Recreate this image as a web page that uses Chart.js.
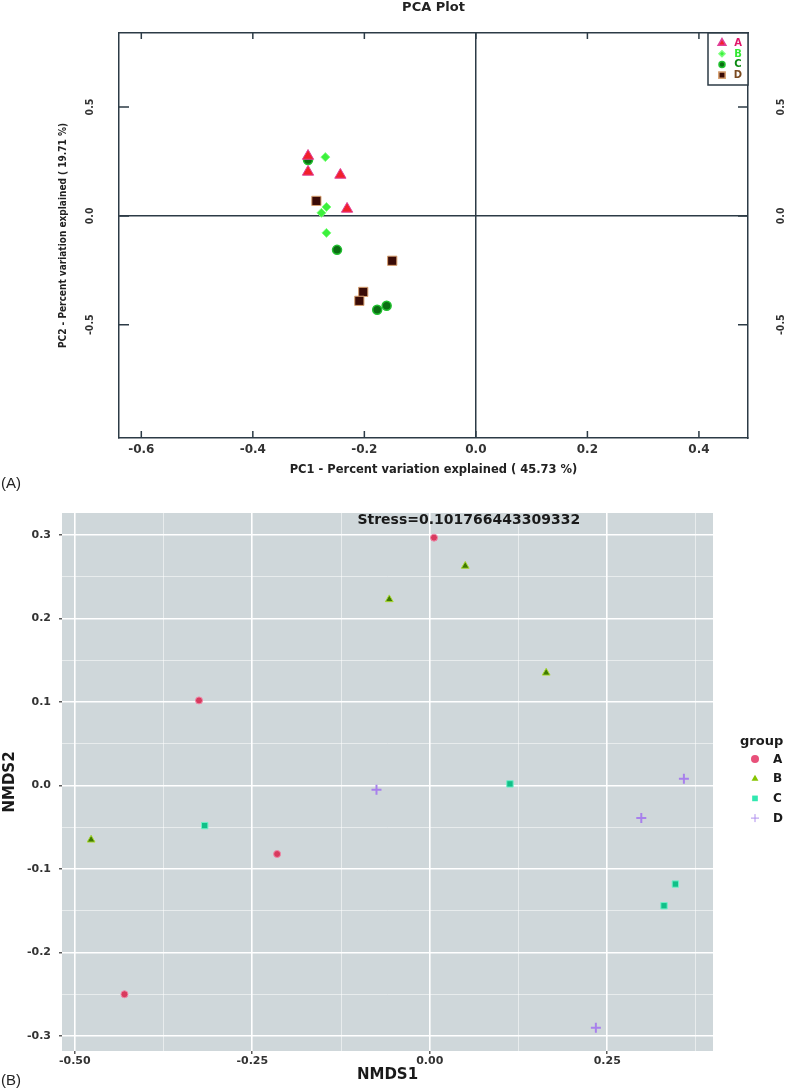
<!DOCTYPE html>
<html>
<head>
<meta charset="utf-8">
<script src="https://cdn.jsdelivr.net/npm/chart.js@4.4.1/dist/chart.umd.min.js"></script>
<style>
  body { margin: 0; background: #fff; width: 789px; height: 1092px; position: relative; overflow: hidden; }
  canvas { position: absolute; left: 0; }
  #pca { top: 0; }
  #nmds { top: 490px; }
  .tag { position: absolute; left: 1px; font: 15px 'Liberation Sans', sans-serif; color: #222; }
</style>
</head>
<body>
<canvas id="pca" width="789" height="490"></canvas>
<canvas id="nmds" width="789" height="602"></canvas>
<div class="tag" style="top:474px">(A)</div>
<div class="tag" style="top:1071px">(B)</div>
<script>
// ---- data, panel A (PCA) : [PC1, PC2]
const groups = ['A', 'B', 'C', 'D'];
const pcaA = [[-0.301, 0.275], [-0.301, 0.202], [-0.243, 0.188], [-0.231, 0.032]];
const pcaB = [[-0.270, 0.270], [-0.268, 0.041], [-0.277, 0.014], [-0.268, -0.078]];
const pcaC = [[-0.301, 0.257], [-0.249, -0.156], [-0.177, -0.431], [-0.160, -0.413]];
const pcaD = [[-0.286, 0.069], [-0.150, -0.206], [-0.202, -0.349], [-0.209, -0.390]];
const pcaXTicks = [-0.6, -0.4, -0.2, 0.0, 0.2, 0.4];
const pcaYTicks = [-0.5, 0.0, 0.5];

// ---- data, panel B (NMDS) : [NMDS1, NMDS2]
const nmdsA = [[0.006, 0.297], [-0.325, 0.102], [-0.215, -0.082], [-0.430, -0.250]];
const nmdsB = [[-0.057, 0.223], [0.050, 0.263], [0.164, 0.135], [-0.477, -0.065]];
const nmdsC = [[0.113, 0.002], [-0.317, -0.048], [0.346, -0.118], [0.330, -0.144]];
const nmdsD = [[-0.075, -0.005], [0.358, 0.008], [0.298, -0.039], [0.234, -0.290]];
const stressText = 'Stress=0.101766443309332';

const toPts = arr => arr.map(p => ({x: p[0], y: p[1]}));
const frame = '#2c3b46';
const narrow = "'Liberation Sans Narrow', 'DejaVu Sans Condensed', 'Liberation Sans', sans-serif";
Chart.defaults.font.family = 'DejaVu Sans';

// inward tick marks on all four sides of the R box
const innerTicks = {
  id: 'innerTicks',
  afterDraw(chart) {
    const {ctx, chartArea: a, scales} = chart;
    ctx.save();
    ctx.strokeStyle = frame;
    ctx.lineWidth = 1.5;
    ctx.beginPath();
    scales.x.ticks.forEach(t => {
      const px = scales.x.getPixelForValue(t.value);
      ctx.moveTo(px, a.bottom); ctx.lineTo(px, a.bottom - 7);
      ctx.moveTo(px, a.top); ctx.lineTo(px, a.top + 6);
    });
    scales.y.ticks.forEach(t => {
      const py = scales.y.getPixelForValue(t.value);
      ctx.moveTo(a.left, py); ctx.lineTo(a.left + 10, py);
      ctx.moveTo(a.right, py); ctx.lineTo(a.right - 10, py);
    });
    ctx.stroke();
    ctx.restore();
  }
};

const pcaLegend = {
  id: 'pcaLegend',
  afterDraw(chart) {
    const {ctx, chartArea: a} = chart;
    const left = a.right - 40;
    ctx.save();
    ctx.fillStyle = '#fff';
    ctx.fillRect(left, a.top, 40, 52);
    ctx.strokeStyle = frame;
    ctx.lineWidth = 1.5;
    ctx.strokeRect(left, a.top, 40, 52);
    ctx.font = 'bold 10px DejaVu Sans';
    ctx.textAlign = 'center';
    ctx.textBaseline = 'middle';
    chart.data.datasets.forEach((ds, i) => {
      const y = a.top + 10 + i * 10.7;
      ctx.fillStyle = ds.backgroundColor;
      ctx.strokeStyle = ds.borderColor;
      Chart.helpers.drawPoint(ctx, {pointStyle: ds.pointStyle, radius: ds.legendRadius, borderWidth: 1}, left + 14, y);
      ctx.fillStyle = ds.labelColor;
      ctx.fillText(ds.label, left + 30, y + 0.5);
    });
    ctx.restore();
  }
};

new Chart(document.getElementById('pca'), {
  type: 'scatter',
  data: {
    datasets: [
      { label: groups[0], data: toPts(pcaA), pointStyle: 'triangle', pointRadius: 6.5, pointBorderWidth: 1,
        backgroundColor: '#f2202b', borderColor: '#e0409a', legendRadius: 4.5, labelColor: '#e0156a' },
      { label: groups[1], data: toPts(pcaB), pointStyle: 'rectRot', pointRadius: 4.5, pointBorderWidth: 1,
        backgroundColor: '#3cf03c', borderColor: '#7dff7d', legendRadius: 3, labelColor: '#33e833' },
      { label: groups[2], data: toPts(pcaC), pointStyle: 'circle', pointRadius: 4.5, pointBorderWidth: 1.5,
        backgroundColor: '#0b6e12', borderColor: '#22c030', legendRadius: 3, labelColor: '#0b8a12' },
      { label: groups[3], data: toPts(pcaD), pointStyle: 'rect', pointRadius: 6.5, pointBorderWidth: 1,
        backgroundColor: '#3a0b06', borderColor: '#d8a070', legendRadius: 4.5, labelColor: '#7a4a20' }
    ]
  },
  options: {
    responsive: false,
    animation: false,
    layout: { padding: 0 },
    plugins: {
      legend: { display: false },
      tooltip: { enabled: false },
      title: {
        display: true, text: 'PCA Plot', fullSize: false, color: '#222',
        padding: { top: 0, bottom: 0 },
        font: { family: 'DejaVu Sans', size: 13, weight: 'bold' }
      }
    },
    scales: {
      x: {
        type: 'linear', position: 'bottom', min: -0.64, max: 0.488,
        afterBuildTicks: s => { s.ticks = pcaXTicks.map(v => ({value: v})); },
        ticks: { padding: 5, color: '#333', maxRotation: 0, autoSkip: false,
          font: { family: 'DejaVu Sans', size: 12, weight: 'bold' },
          callback: v => v.toFixed(1) },
        grid: { drawTicks: false, lineWidth: 1.5, color: c => (c.tick && c.tick.value === 0) ? frame : 'transparent' },
        border: { display: true, color: frame, width: 1.5 },
        title: { display: true, text: 'PC1 - Percent variation explained ( 45.73 %)', color: '#222',
          padding: { bottom: 13 }, font: { family: 'DejaVu Sans', size: 11.5, weight: 'bold' } },
        afterFit: s => { s.height = 52; }
      },
      x2: {
        type: 'linear', position: 'top', min: -0.64, max: 0.488,
        ticks: { display: false },
        grid: { drawTicks: false, color: 'transparent' },
        border: { display: true, color: frame, width: 1.5 },
        afterFit: s => { s.height = 17.4; }
      },
      y: {
        type: 'linear', position: 'left', min: -1.02, max: 0.84,
        afterBuildTicks: s => { s.ticks = pcaYTicks.map(v => ({value: v})); },
        ticks: { padding: 18.5, color: '#333', minRotation: 90, maxRotation: 90, crossAlign: 'center', autoSkip: false,
          font: { family: narrow, size: 10.5, weight: 'bold' },
          callback: v => v.toFixed(1) },
        grid: { drawTicks: false, lineWidth: 1.5, color: c => (c.tick && c.tick.value === 0) ? frame : 'transparent' },
        border: { display: true, color: frame, width: 1.5 },
        title: { display: true, text: 'PC2 - Percent variation explained ( 19.71 %)', color: '#222',
          padding: { top: 57 }, font: { family: narrow, size: 10, weight: 'bold' } },
        afterFit: s => { s.width = 119; }
      },
      y2: {
        type: 'linear', position: 'right', min: -1.02, max: 0.84,
        afterBuildTicks: s => { s.ticks = pcaYTicks.map(v => ({value: v})); },
        ticks: { padding: 22.5, color: '#333', minRotation: 90, maxRotation: 90, crossAlign: 'center', autoSkip: false,
          font: { family: narrow, size: 10.5, weight: 'bold' },
          callback: v => v.toFixed(1) },
        grid: { drawTicks: false, color: 'transparent' },
        border: { display: true, color: frame, width: 1.5 },
        afterFit: s => { s.width = 41; }
      }
    }
  },
  plugins: [innerTicks, pcaLegend]
});

// ---- panel B, ggplot look
const panelBg = '#cfd7da';
const isMajor = (v, k) => Math.abs(v * k - Math.round(v * k)) < 1e-6;

const ggPanel = {
  id: 'ggPanel',
  beforeDraw(chart) {
    const {ctx, chartArea: a} = chart;
    ctx.save();
    ctx.fillStyle = panelBg;
    ctx.fillRect(a.left, a.top, a.right - a.left, a.bottom - a.top);
    ctx.restore();
  },
  afterDraw(chart) {
    const {ctx, chartArea: a, scales} = chart;
    ctx.save();
    // stress annotation
    ctx.fillStyle = '#1a1a1a';
    ctx.font = 'bold 14px DejaVu Sans';
    ctx.textAlign = 'center';
    ctx.textBaseline = 'middle';
    ctx.fillText(stressText, scales.x.getPixelForValue(0.055), scales.y.getPixelForValue(0.318));
    // legend
    const cy = (a.top + a.bottom) / 2;
    ctx.textAlign = 'left';
    ctx.font = 'bold 13px DejaVu Sans';
    ctx.fillStyle = '#1a1a1a';
    ctx.fillText('group', a.right + 27, cy - 40);
    ctx.font = 'bold 12px DejaVu Sans';
    chart.data.datasets.forEach((ds, i) => {
      const y = cy - 23 + i * 19.7;
      ctx.fillStyle = ds.legendColor;
      ctx.strokeStyle = ds.legendColor;
      Chart.helpers.drawPoint(ctx, {pointStyle: ds.pointStyle, radius: 4, borderWidth: ds.pointStyle === 'cross' ? 2 : 0}, a.right + 42, y);
      ctx.fillStyle = '#1a1a1a';
      ctx.fillText(ds.label, a.right + 60, y + 0.5);
    });
    ctx.restore();
  }
};

new Chart(document.getElementById('nmds'), {
  type: 'scatter',
  data: {
    datasets: [
      { label: groups[0], data: toPts(nmdsA), pointStyle: 'circle', pointRadius: 3.5, pointBorderWidth: 1,
        backgroundColor: '#d83a5e', borderColor: '#f088a8', legendColor: '#e8507a' },
      { label: groups[1], data: toPts(nmdsB), pointStyle: 'triangle', pointRadius: 4.5, pointBorderWidth: 1,
        backgroundColor: '#3f7a00', borderColor: '#a8d830', legendColor: '#86c400' },
      { label: groups[2], data: toPts(nmdsC), pointStyle: 'rect', pointRadius: 4.5, pointBorderWidth: 1,
        backgroundColor: '#10c088', borderColor: '#70f0c8', legendColor: '#30e8b0' },
      { label: groups[3], data: toPts(nmdsD), pointStyle: 'cross', pointRadius: 5, pointBorderWidth: 2,
        backgroundColor: '#a880ec', borderColor: '#a880ec', legendColor: '#b090ee' }
    ]
  },
  options: {
    responsive: false,
    animation: false,
    layout: { padding: { top: 23, right: 76, left: 0, bottom: 0 } },
    plugins: { legend: { display: false }, tooltip: { enabled: false } },
    scales: {
      x: {
        type: 'linear', min: -0.518, max: 0.399,
        ticks: { stepSize: 0.125, includeBounds: false, autoSkip: false, maxRotation: 0, padding: 1, color: '#333',
          font: { family: 'DejaVu Sans', size: 11, weight: 'bold' },
          callback: v => isMajor(v, 4) ? v.toFixed(2) : '' },
        grid: {
          color: c => c.tick && isMajor(c.tick.value, 4) ? '#ffffff' : 'rgba(255,255,255,0.65)',
          lineWidth: c => c.tick && isMajor(c.tick.value, 4) ? 1.6 : 0.8,
          tickColor: c => c.tick && isMajor(c.tick.value, 4) ? '#333' : 'transparent',
          tickLength: 3, tickWidth: 1.2
        },
        border: { display: false },
        title: { display: true, text: 'NMDS1', color: '#1a1a1a', padding: { bottom: 8 },
          font: { family: 'DejaVu Sans', size: 15, weight: 'bold' } },
        afterFit: s => { s.height = 41; }
      },
      y: {
        type: 'linear', min: -0.318, max: 0.3265,
        ticks: { stepSize: 0.05, includeBounds: false, autoSkip: false, padding: 8, color: '#333',
          font: { family: 'DejaVu Sans', size: 11, weight: 'bold' },
          callback: v => isMajor(v, 10) ? v.toFixed(1) : '' },
        grid: {
          color: c => c.tick && isMajor(c.tick.value, 10) ? '#ffffff' : 'rgba(255,255,255,0.65)',
          lineWidth: c => c.tick && isMajor(c.tick.value, 10) ? 1.6 : 0.8,
          tickColor: c => c.tick && isMajor(c.tick.value, 10) ? '#333' : 'transparent',
          tickLength: 3, tickWidth: 1.2
        },
        border: { display: false },
        title: { display: true, text: 'NMDS2', color: '#1a1a1a', padding: { top: 1 },
          font: { family: 'DejaVu Sans', size: 15, weight: 'bold' } },
        afterFit: s => { s.width = 62; }
      }
    }
  },
  plugins: [ggPanel]
});
</script>
</body>
</html>
